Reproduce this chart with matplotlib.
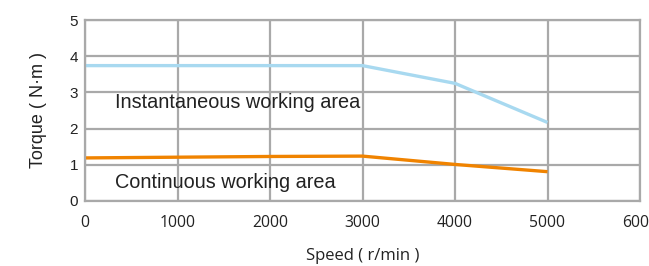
import matplotlib
matplotlib.use("Agg")
import matplotlib.pyplot as plt

speed = [0, 1000, 2000, 3000, 4000, 5000]
instantaneous = [3.74, 3.74, 3.74, 3.74, 3.25, 2.17]
continuous = [1.19, 1.21, 1.23, 1.24, 1.01, 0.81]
xticks = [0, 1000, 2000, 3000, 4000, 5000, 6000]
yticks = [0, 1, 2, 3, 4, 5]

fig = plt.figure(figsize=(6.49, 2.66), dpi=100)
ax = fig.add_axes([85/649, 1-201/266, (640-85)/649, (201-20)/266])
ax.set_xlim(0, 6000)
ax.set_ylim(0, 5)

grid_c = "#a9a9a9"
ax.set_xticks(xticks)
ax.set_yticks(yticks)
ax.grid(True, color=grid_c, linewidth=1.6)
ax.set_axisbelow(True)
for s in ax.spines.values():
    s.set_color(grid_c)
    s.set_linewidth(1.6)
ax.tick_params(axis="both", length=0, colors="#222222")
ax.tick_params(axis="x", pad=10)
ax.tick_params(axis="y", pad=5)
for lab in ax.get_xticklabels():
    lab.set_fontfamily("Open Sans")
    lab.set_fontsize(11.3)
for lab in ax.get_yticklabels():
    lab.set_fontfamily("Liberation Sans")
    lab.set_fontsize(11)

ax.plot(speed, instantaneous, color="#a8d9f0", linewidth=2.4, solid_capstyle="butt")
ax.plot(speed, continuous, color="#f08300", linewidth=2.4, solid_capstyle="butt")

ax.text(325, 2.57, "Instantaneous working area", fontsize=14.3, family="Liberation Sans",
        color="#222222", va="baseline", ha="left")
ax.text(325, 0.35, "Continuous working area", fontsize=14.3, family="Liberation Sans",
        color="#222222", va="baseline", ha="left")

ax.set_xlabel("Speed ( r/min )", fontsize=12, family="Open Sans", color="#222222", labelpad=12)
ax.set_ylabel("Torque ( N·m )", fontsize=13, family="Liberation Sans", color="#222222", labelpad=16)

fig.savefig("out.png", dpi=100)
